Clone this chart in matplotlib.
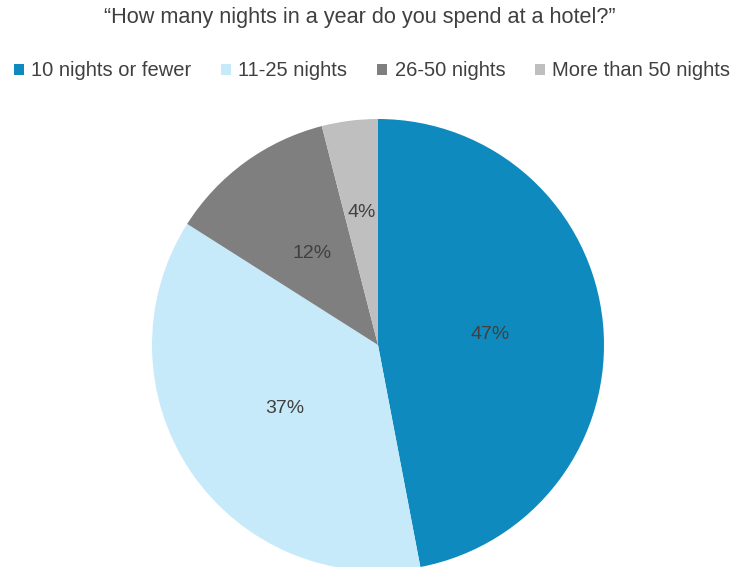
import matplotlib
matplotlib.use("Agg")
import matplotlib.pyplot as plt
import numpy as np
from matplotlib.patches import Patch

plt.rcParams['font.family'] = ['Liberation Sans', 'DejaVu Sans']

labels = ["10 nights or fewer", "11-25 nights", "26-50 nights", "More than 50 nights"]
values = [47, 37, 12, 4]
colors = ["#0E8ABE", "#C6EAFA", "#7F7F7F", "#BFBFBF"]
title = "\u201cHow many nights in a year do you spend at a hotel?\u201d"
text_color = "#404040"

fig = plt.figure(figsize=(7.33, 5.67), dpi=100)
# pie centred at about (378, 345) px, radius ~226 px
ax = fig.add_axes([(378 - 226) / 733, (567 - 345 - 226) / 567, 452 / 733, 452 / 567])

wedges, texts, autotexts = ax.pie(values, colors=colors, startangle=90, counterclock=False,
                                  autopct="%d%%", pctdistance=0.5, radius=1,
                                  textprops=dict(color=text_color, fontsize=14))
# small slice label sits a bit further out
x, y = autotexts[3].get_position()
autotexts[3].set_position((x * 1.18, y * 1.18))
ax.set_xlim(-1, 1)
ax.set_ylim(-1, 1)
ax.set_aspect("equal")
ax.axis("off")

fig.text(360 / 733, 1 - 18 / 567, title, ha="center", va="center", fontsize=15.6, color=text_color)

handles = [Patch(facecolor=c, edgecolor="none") for c in colors]
fig.legend(handles, labels, loc="center", bbox_to_anchor=(372 / 733, 1 - 71 / 567), ncol=4,
           frameon=False, fontsize=14.5, handlelength=0.5, handleheight=0.5,
           handletextpad=0.35, columnspacing=1.5, labelcolor=text_color)

fig.savefig("out.png", dpi=100)
